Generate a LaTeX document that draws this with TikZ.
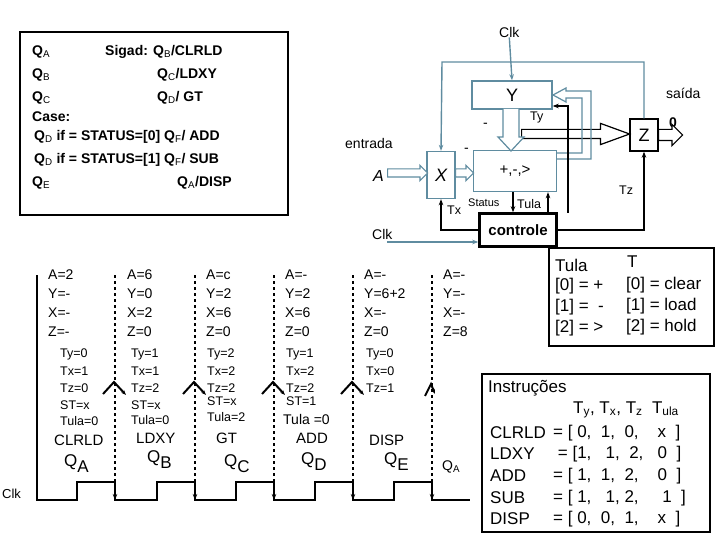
\documentclass[tikz,border=0pt]{standalone}
\usepackage{fontspec}
\setmainfont{Liberation Sans}
\usetikzlibrary{arrows.meta, shapes.arrows}

\definecolor{wireblue}{RGB}{95,140,160}
\newcommand{\EdgeList}{115,195,274,353,432}

\begin{document}
\begin{tikzpicture}[x=1pt, y=-1pt,
  box/.style={draw=wireblue, line width=1.4pt},
  wire/.style={wireblue, line width=1.4pt, -{Stealth[length=6pt]}},
  sig/.style={black, line width=1.4pt, -{Stealth[length=6pt]}},
  hollow/.style={single arrow, draw=wireblue, line width=1.2pt, fill=white,
    single arrow head extend=3.5pt, inner xsep=0pt, inner ysep=3.5pt, anchor=tail},
  txt/.style={anchor=west, inner sep=0pt, font=\fontsize{14}{16}\selectfont},
  small/.style={anchor=west, inner sep=0pt, font=\fontsize{12.5}{14}\selectfont},
  prog/.style={anchor=west, inner sep=0pt, font=\fontsize{14}{16}\selectfont\bfseries},
  tab/.style={anchor=west, inner sep=0pt, font=\fontsize{17}{19}\selectfont}]
  \useasboundingbox (0,0) rectangle (720,540);

  % program box
  \draw[line width=1.4pt] (20,32) rectangle (288,215);
  \node[prog] (pa) at (32,52) {Q$_\mathrm{A}$};
  \node[prog] (pb) at (32,75) {Q$_\mathrm{B}$};
  \node[prog] (pc) at (32,98) {Q$_\mathrm{C}$};
  \node[prog] (pcase) at (32,117) {Case:};
  \node[prog] (pd0) at (34,137) {Q$_\mathrm{D}$ if = STATUS=[0] Q$_\mathrm{F}$/ ADD};
  \node[prog] (pd1) at (34,160) {Q$_\mathrm{D}$ if = STATUS=[1] Q$_\mathrm{F}$/ SUB};
  \node[prog] (pe) at (32,183) {Q$_\mathrm{E}$};
  \node[prog] (sa) at (105,52) {Sigad: Q$_\mathrm{B}$/CLRLD};
  \node[prog] (sb) at (157,75) {Q$_\mathrm{C}$/LDXY};
  \node[prog] (sc) at (157,98) {Q$_\mathrm{D}$/ GT};
  \node[prog] (se) at (177,183) {Q$_\mathrm{A}$/DISP};

  % datapath
  \node[txt] (clkt) at (499,32) {Clk};
  \node[box, minimum width=80pt, minimum height=28pt] (Y) at (512,95) {\fontsize{18}{20}\selectfont Y};
  \node[box, minimum width=28pt, minimum height=47pt] (X) at (441,175) {\fontsize{18}{20}\selectfont\itshape X};
  \node[box, minimum width=83pt, minimum height=41pt] (alu) at (515,171) {\fontsize{15}{17}\selectfont +,-,>};
  \node[draw, line width=1.4pt, minimum width=28pt, minimum height=32pt] (Z) at (644,135) {\fontsize{18}{20}\selectfont Z};
  \node[draw, line width=2.5pt, minimum width=77pt, minimum height=33pt, inner sep=0pt] (ctl) at (518,230) {\fontsize{15}{17}\selectfont\bfseries controle};
  \node[txt] (ent) at (345,143) {entrada};
  \node[txt, font=\fontsize{16}{18}\selectfont\itshape] (A) at (373,176) {A};
  \node[txt] (sai) at (666,93) {saída};
  \node[txt, font=\fontsize{14}{16}\selectfont\bfseries] (zero) at (669,123) {0};
  \node[small] (ty) at (530,117) {Ty};
  \node[small] (tz) at (619,190) {Tz};
  \node[small] (tx) at (447,210) {Tx};
  \node[small, font=\fontsize{11}{12}\selectfont] (st) at (468,203) {Status};
  \node[small] (tula) at (517,204) {Tula};
  \node[txt] (m1) at (483,125) {-};
  \node[txt] (m2) at (464,150) {-};
  \node[txt] (clkc) at (372,234) {Clk};
  \coordinate (clkin) at (387,242);

  \draw[wire] (clkt.south) -- (Y.north);
  \draw[wire] (Z.north) |- (442,62) -- (X.north);
  \draw[wire] (clkin) -- (clkin -| ctl.west);
  \node[hollow, minimum width=15pt, minimum height=40pt] (ax) at (387,173) {};
  \node[hollow, minimum width=15pt, minimum height=18pt] (xa) at (455,173) {};
  \node[hollow, draw=black, minimum height=108pt, inner ysep=4pt, single arrow head extend=6pt,
    single arrow tip angle=40] (yz) at (521,134) {};
  \node[hollow, minimum height=24pt, inner ysep=5pt, single arrow head extend=5pt, draw=black] (zo) at (658,135) {};
  \draw[wireblue, line width=1.2pt, fill=white] (503,109) -- (503,137) -- (498,137) -- (511,151)
    -- (524,137) -- (519,137) -- (519,109);
  \draw[wireblue, line width=1.2pt] (557,153) -- (582,153) -- (582,98) -- (566,98) -- (566,102)
    -- (553,95) -- (566,88) -- (566,91) -- (591,91) -- (591,159) -- (557,159);
  \draw[sig] (ctl.west) -| (X.south);
  \draw[sig] (ctl.east) -| (Z.south);
  \draw[sig] (568,213) |- (Y.south east |- 0,106);
  \draw[sig] (513,192) -- (ctl.north -| 513,0);
  \draw[sig] (548,213) -- (alu.south -| 548,0);
  \draw[line width=1.4pt] (ctl.south east) -- (549,248);

  % timing
  \node[small, font=\fontsize{13}{15}\selectfont] (clkw) at (2,494) {Clk};
  \draw[line width=2pt] (37,275) -- (37,500) -- (77,500)
    \foreach \e in \EdgeList {-- (\e-38,500) -- (\e-38,482) -- (\e,482) -- (\e,500)} -- (470,500);
  \foreach \e in \EdgeList {
    \draw[line width=1.2pt, dashed, -{Stealth[length=6pt]}] (\e,275) -- (\e,500);
  }
  \foreach \e in {115,195,274,353} {
    \draw[line width=2pt, -{Stealth[length=5pt]}] (\e-12,394) -- (\e-1,382) -- (\e+11,395);
  }
  \draw[line width=2pt, -{Stealth[length=5pt]}] (425,396) -- (431,384) -- (435,394);

  \foreach \a/\yv/\xv/\zv [count=\i] in {2/-/-/-, 6/0/2/0, c/2/6/0, -/2/6/0, -/6+2/-/0, -/-/-/8} {
    \pgfmathsetmacro{\cx}{48+79*(\i-1)}
    \node[txt] (a\i) at (\cx,275) {A=\a};
    \node[txt] (y\i) at (\cx,294) {Y=\yv};
    \node[txt] (x\i) at (\cx,313) {X=\xv};
    \node[txt] (z\i) at (\cx,332) {Z=\zv};
  }
  \foreach \ty/\tx/\tz/\cx [count=\i] in {0/1/0/60, 1/1/2/131, 2/2/2/207, 1/2/2/286, 0/0/1/366} {
    \node[small] (ty\i) at (\cx,354) {Ty=\ty};
    \node[small] (tx\i) at (\cx,371) {Tx=\tx};
    \node[small] (tz\i) at (\cx,388) {Tz=\tz};
  }
  \node[small] (st1) at (60,405) {ST=x};
  \node[small] (st2) at (131,405) {ST=x};
  \node[small] (st3) at (207,401) {ST=x};
  \node[small] (st4) at (286,401) {ST=1};
  \node[small] (tu1) at (60,421) {Tula=0};
  \node[small] (tu2) at (131,420) {Tula=0};
  \node[small] (tu3) at (207,417) {Tula=2};
  \node[txt] (tu4) at (283,419) {Tula =0};
  \node[txt, font=\fontsize{15}{17}\selectfont] (i1) at (54,440) {CLRLD};
  \node[txt, font=\fontsize{15}{17}\selectfont] (i2) at (136,438) {LDXY};
  \node[txt, font=\fontsize{15}{17}\selectfont] (i3) at (216,438) {GT};
  \node[txt, font=\fontsize{15}{17}\selectfont] (i4) at (296,438) {ADD};
  \node[txt, font=\fontsize{15}{17}\selectfont] (i5) at (369,440) {DISP};
  \node[txt, font=\fontsize{17}{19}\selectfont] (q1) at (64,464) {Q\raisebox{-6pt}{A}};
  \node[txt, font=\fontsize{17}{19}\selectfont] (q2) at (147,460) {Q\raisebox{-6pt}{B}};
  \node[txt, font=\fontsize{17}{19}\selectfont] (q3) at (224,464) {Q\raisebox{-6pt}{C}};
  \node[txt, font=\fontsize{17}{19}\selectfont] (q4) at (301,462) {Q\raisebox{-6pt}{D}};
  \node[txt, font=\fontsize{17}{19}\selectfont] (q5) at (384,462) {Q\raisebox{-6pt}{E}};
  \node[txt] (q6) at (442,467) {Q$_\mathrm{A}$};

  % tables
  \draw[line width=1.4pt] (549,248) rectangle (714,346);
  \node[tab] (th1) at (555,265) {Tula};
  \node[tab] (th2) at (627,262) {T};
  \node[tab] (tr0) at (555,286) {[0] = +};
  \node[tab] (tr1) at (555,307) {[1] = \ -};
  \node[tab] (tr2) at (555,328) {[2] = >};
  \node[tab] (tc0) at (626,285) {[0] = clear};
  \node[tab] (tc1) at (626,306) {[1] = load};
  \node[tab] (tc2) at (626,327) {[2] = hold};

  \draw[line width=1.4pt] (482,374) rectangle (710,532);
  \node[tab] (ih) at (488,388) {Instruções};
  \node[tab] (icol) at (573,410) {T$_\mathrm{y}$, T$_\mathrm{x}$, T$_\mathrm{z}$\ \ T$_\mathrm{ula}$};
  \foreach \nm/\vals/\yy in {CLRLD/{= [ 0,\ \ 1,\ \ 0,\ \ \ \ x\ \ ]}/433,
      LDXY/{\ = [1,\ \ \ 1,\ \ 2,\ \ \ 0\ \ ]}/454,
      ADD/{= [ 1,\ \ 1,\ \ 2,\ \ \ \ 0\ \ ]}/476,
      SUB/{= [ 1,\ \ \ 1, 2,\ \ \ \ \ 1\ \ ]}/498,
      DISP/{= [ 0,\ \ 0,\ \ 1,\ \ \ \ x\ \ ]}/519} {
    \node[tab] (r\nm) at (490,\yy) {\nm};
    \node[tab] (v\nm) at (553,\yy) {\vals};
  }
\end{tikzpicture}
\end{document}
